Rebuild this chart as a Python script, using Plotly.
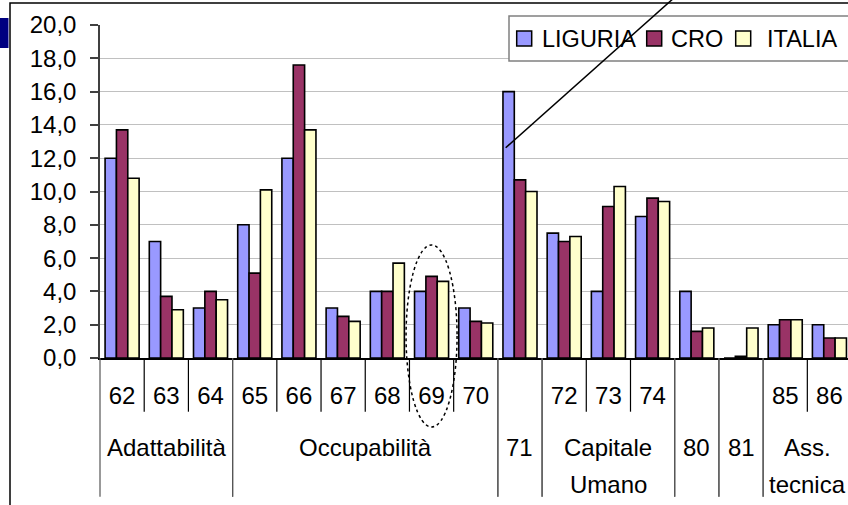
import plotly.graph_objects as go

# ---------------- data ----------------
categories = ["62", "63", "64", "65", "66", "67", "68", "69", "70",
              "71", "72", "73", "74", "80", "81", "85", "86"]
tick_labels = ["62", "63", "64", "65", "66", "67", "68", "69", "70",
               "", "72", "73", "74", "", "", "85", "86"]
liguria = [12.0, 7.0, 3.0, 8.0, 12.0, 3.0, 4.0, 4.0, 3.0,
           16.0, 7.5, 4.0, 8.5, 4.0, 0.0, 2.0, 2.0]
cro = [13.7, 3.7, 4.0, 5.1, 17.6, 2.5, 4.0, 4.9, 2.2,
       10.7, 7.0, 9.1, 9.6, 1.6, 0.1, 2.3, 1.2]
italia = [10.8, 2.9, 3.5, 10.1, 13.7, 2.2, 5.7, 4.6, 2.1,
          10.0, 7.3, 10.3, 9.4, 1.8, 1.8, 2.3, 1.2]
series_names = ["LIGURIA", "CRO", "ITALIA"]
group_labels = ["Adattabilità", "Occupabilità", "71", "Capitale\nUmano",
                "80", "81", "Ass.\ntecnica"]
group_start = [0, 3, 9, 10, 13, 14, 15]
group_end = [2, 8, 9, 12, 13, 14, 16]

# ---------------- style ----------------
FONT = "Liberation Sans, Arial, sans-serif"
colors = ["#9999FF", "#993366", "#FFFFCC"]
X_RANGE = [-0.5, 16.42]
W, H = 848, 505
ML, MR, MT, MB = 100, 0, 25, 147
PW, PH = W - ML - MR, H - MT - MB


def xpaper(pos):
    return (pos - X_RANGE[0]) / (X_RANGE[1] - X_RANGE[0])


def px2x(px):
    return (px - ML) / PW


def px2y(py):
    return (H - MB - py) / PH


fig = go.Figure()
for name, vals, col in zip(series_names, [liguria, cro, italia], colors):
    fig.add_trace(go.Bar(
        x=categories, y=vals, name=name, showlegend=False,
        marker=dict(color=col, line=dict(color="black", width=1.6)),
    ))

shapes = []
annotations = []

# outer frame and navy tab
shapes.append(dict(type="rect", xref="paper", yref="paper",
                   x0=px2x(10), x1=px2x(880), y0=px2y(560), y1=px2y(3),
                   line=dict(color="black", width=1.5), fillcolor="rgba(0,0,0,0)",
                   layer="above"))
shapes.append(dict(type="rect", xref="paper", yref="paper",
                   x0=px2x(-5), x1=px2x(8.5), y0=px2y(48), y1=px2y(18),
                   line=dict(width=0), fillcolor="#000080", layer="above"))

# category separators
ROW1_BOTTOM = px2y(411.7)
ROW2_BOTTOM = px2y(496.7)
for s, e in zip(group_start, group_end):
    for b in [s - 0.5, e + 0.5]:
        shapes.append(dict(type="line", xref="paper", yref="paper",
                           x0=xpaper(b), x1=xpaper(b), y0=0, y1=ROW2_BOTTOM,
                           line=dict(color="#555555", width=1.2)))
    for i in range(s, e):
        b = i + 0.5
        shapes.append(dict(type="line", xref="paper", yref="paper",
                           x0=xpaper(b), x1=xpaper(b), y0=0, y1=ROW1_BOTTOM,
                           line=dict(color="black", width=1.2)))

# dotted ellipse around category 69
i69 = categories.index("69")
shapes.append(dict(type="circle", xref="x", yref="paper",
                   x0=i69 - 0.577, x1=i69 + 0.577, y0=px2y(427), y1=px2y(245),
                   line=dict(color="black", width=1.5, dash="dot"),
                   layer="above"))

# group labels (second row of the category axis)
for lab, s, e in zip(group_labels, group_start, group_end):
    for k, ln in enumerate(lab.split("\n")):
        annotations.append(dict(
            text=ln, xref="x", yref="paper", x=(s + e) / 2,
            y=px2y(447 + 37 * k), xanchor="center", yanchor="middle",
            showarrow=False, font=dict(family=FONT, size=24, color="black")))

# legend (box, swatches, names)
shapes.append(dict(type="rect", xref="paper", yref="paper",
                   x0=px2x(509), x1=px2x(880), y0=px2y(61), y1=px2y(16),
                   line=dict(color="#808080", width=1.5), fillcolor="white",
                   layer="above"))
legend_swatch_px = [516.7, 646.7, 735.7]
legend_text_px = [539.5, 668.5, 765.0]
for name, col, sx, tx in zip(series_names, colors, legend_swatch_px, legend_text_px):
    shapes.append(dict(type="rect", xref="paper", yref="paper",
                       x0=px2x(sx), x1=px2x(sx + 15), y0=px2y(46), y1=px2y(31),
                       line=dict(color="black", width=1.5), fillcolor=col,
                       layer="above"))
    annotations.append(dict(
        text=name, xref="paper", yref="paper", x=px2x(tx), y=px2y(38.5),
        xanchor="left", yanchor="middle", showarrow=False,
        font=dict(family=FONT, size=23.5, color="black")))

# pointer line from the 71 LIGURIA bar to the legend
shapes.append(dict(type="line", xref="paper", yref="paper",
                   x0=px2x(505.7), y0=px2y(147.7), x1=px2x(675), y1=px2y(-3),
                   line=dict(color="black", width=1.5), layer="above"))

fig.update_layout(
    width=W, height=H,
    margin=dict(l=ML, r=MR, t=MT, b=MB, autoexpand=False),
    paper_bgcolor="white", plot_bgcolor="white",
    separators=",.",
    barmode="group", bargap=0.23, bargroupgap=0,
    font=dict(family=FONT, color="black"),
    showlegend=False,
    xaxis=dict(type="category", range=X_RANGE, tickvals=categories,
               ticktext=tick_labels, ticks="", showgrid=False,
               showline=True, linecolor="black", linewidth=1.5,
               tickfont=dict(size=24), ticklabelstandoff=15),
    yaxis=dict(range=[0, 20], dtick=2, tickformat=".1f",
               showgrid=True, gridcolor="#c0c0c0", gridwidth=1,
               showline=True, linecolor="#404040", linewidth=1.5,
               ticks="outside", ticklen=8, tickcolor="#404040", tickwidth=1.5,
               tickfont=dict(size=24), ticklabelstandoff=9, zeroline=False),
    shapes=shapes, annotations=annotations,
)

fig.write_html(
    "out.html",
    config={"displayModeBar": False},
    post_script="document.body.style.margin='0';"
                "document.body.style.overflow='hidden';",
)
